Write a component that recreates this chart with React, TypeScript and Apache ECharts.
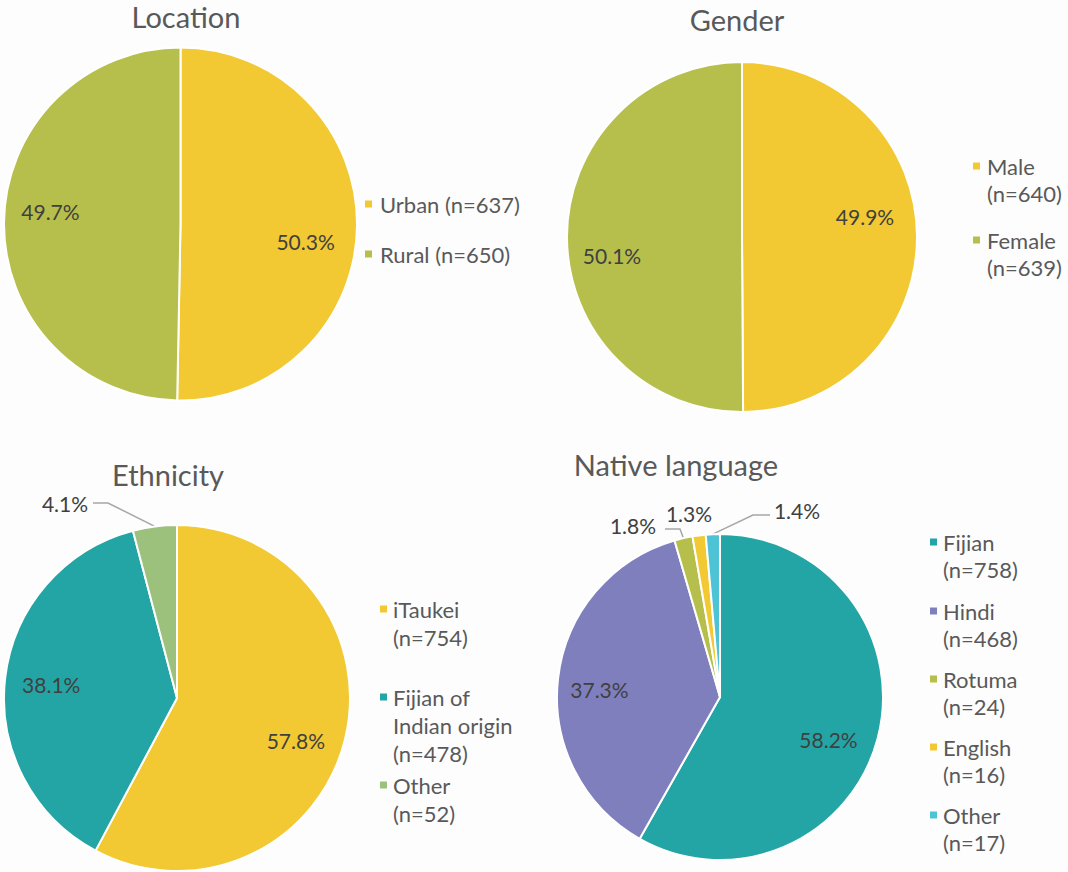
import React, { useEffect, useRef } from 'react';
import * as echarts from 'echarts';

// ---------- data ----------
const locationCategories = ['Urban', 'Rural'];
const locationCounts = [637, 650];
const locationPercents = [50.3, 49.7];

const genderCategories = ['Male', 'Female'];
const genderCounts = [640, 639];
const genderPercents = [49.9, 50.1];

const ethnicityCategories = ['iTaukei', 'Fijian of Indian origin', 'Other'];
const ethnicityCounts = [754, 478, 52];
const ethnicityPercents = [57.8, 38.1, 4.1];

const languageCategories = ['Fijian', 'Hindi', 'Rotuma', 'English', 'Other'];
const languageCounts = [758, 468, 24, 16, 17];
const languagePercents = [58.2, 37.3, 1.8, 1.3, 1.4];

// ---------- styles ----------
const YELLOW = '#F2C932';
const OLIVE = '#B6BF4B';
const TEAL = '#24A5A5';
const PURPLE = '#7F7FBE';
const LIGHTGREEN = '#9CC17C';
const LIGHTBLUE = '#4FC3D6';
const FONT = 'Lato, "Open Sans", sans-serif';

type LabelCfg = {
  nudge?: number[];
  outside?: boolean;
  pos?: number[];
  bend?: number[];
  end?: number[];
  noLine?: boolean;
};

type Panel = {
  title: string;
  titleX: number;
  titleY: number;
  cats: string[];
  counts: number[];
  pcts: number[];
  colors: string[];
  center: number[];
  r: number;
  legend: { sqX: number; textX: number; ys: number[]; lh: number; inline: boolean };
  labels: LabelCfg[];
};

const panels: Panel[] = [
  {
    title: 'Location', titleX: 186, titleY: 2,
    cats: locationCategories, counts: locationCounts, pcts: locationPercents,
    colors: [YELLOW, OLIVE], center: [180.5, 224], r: 176.5,
    legend: { sqX: 365, textX: 380, ys: [204, 254], lh: 27, inline: true },
    labels: [{ nudge: [-2, 16] }, { nudge: [-3, -11] }],
  },
  {
    title: 'Gender', titleX: 737, titleY: 5,
    cats: genderCategories, counts: genderCounts, pcts: genderPercents,
    colors: [YELLOW, OLIVE], center: [742, 237], r: 175,
    legend: { sqX: 973, textX: 987, ys: [166, 240], lh: 27, inline: false },
    labels: [{ nudge: [-3, -20] }, { nudge: [-4, 18] }],
  },
  {
    title: 'Ethnicity', titleX: 168, titleY: 460,
    cats: ethnicityCategories, counts: ethnicityCounts, pcts: ethnicityPercents,
    colors: [YELLOW, TEAL, LIGHTGREEN], center: [177, 698], r: 173,
    legend: { sqX: 380, textX: 393, ys: [609, 697, 785], lh: 28, inline: false },
    labels: [
      { nudge: [-2, 12] },
      { nudge: [-2, 1] },
      { outside: true, pos: [65, 503], bend: [108, 503], end: [93, 503] },
    ],
  },
  {
    title: 'Native language', titleX: 676, titleY: 450,
    cats: languageCategories, counts: languageCounts, pcts: languagePercents,
    colors: [TEAL, PURPLE, OLIVE, YELLOW, LIGHTBLUE], center: [720, 697], r: 163,
    legend: { sqX: 930, textX: 943, ys: [542, 611, 679, 747, 815], lh: 27, inline: false },
    labels: [
      { nudge: [-5, 13] },
      { nudge: [-4, 6] },
      { outside: true, pos: [633, 525], bend: [680, 529], end: [665, 529] },
      { outside: true, pos: [689, 513], noLine: true },
      { outside: true, pos: [797, 510], bend: [753, 515], end: [770, 515] },
    ],
  },
];

function midAngle(p: Panel, i: number): number {
  const total = p.pcts.reduce((a, b) => a + b, 0);
  let before = 0;
  for (let k = 0; k < i; k++) before += p.pcts[k];
  return ((before + p.pcts[i] / 2) / total) * Math.PI * 2;
}

function legendText(p: Panel, i: number): string {
  const name = p.cats[i];
  if (p.legend.inline) return `${name} (n=${p.counts[i]})`;
  return `${name.replace('Fijian of ', 'Fijian of\n')}\n(n=${p.counts[i]})`;
}

export default function App() {
  const ref = useRef<HTMLDivElement>(null);

  useEffect(() => {
    if (!ref.current) return;
    const chart = echarts.init(ref.current, undefined, { renderer: 'svg' });

    const graphic: any[] = [];
    panels.forEach((p) => {
      p.cats.forEach((_, i) => {
        graphic.push({
          type: 'rect',
          shape: { x: p.legend.sqX, y: p.legend.ys[i] - 3.5, width: 7, height: 7 },
          style: { fill: p.colors[i] },
        });
        graphic.push({
          type: 'text',
          x: p.legend.textX,
          y: p.legend.ys[i] - p.legend.lh / 2,
          style: {
            text: legendText(p, i),
            fontFamily: FONT,
            fontSize: 22,
            fill: '#595959',
            lineHeight: p.legend.lh,
            verticalAlign: 'top',
            align: 'left',
          },
        });
      });
    });

    const option: any = {
      animation: false,
      backgroundColor: '#fdfdfd',
      title: panels.map((p) => ({
        text: p.title,
        left: p.titleX,
        top: p.titleY,
        textAlign: 'center',
        padding: 0,
        textStyle: { fontFamily: FONT, fontSize: 29, fontWeight: 'normal', color: '#595959' },
      })),
      graphic,
      series: panels.map((p) => ({
        type: 'pie',
        center: p.center,
        radius: p.r,
        startAngle: 90,
        clockwise: true,
        avoidLabelOverlap: false,
        itemStyle: { borderColor: '#ffffff', borderWidth: 2 },
        label: {
          show: true,
          formatter: (prm: any) => `${Number(prm.value).toFixed(1)}%`,
          fontFamily: FONT,
          fontSize: 21,
          color: '#404040',
        },
        labelLine: { show: true, length: 10, length2: 10, lineStyle: { color: '#A6A6A6', width: 1.5 } },
        emphasis: { disabled: true },
        data: p.pcts.map((v, i) => ({
          name: p.cats[i],
          value: v,
          itemStyle: { color: p.colors[i] },
          label: { position: p.labels[i].outside ? 'outside' : 'inside' },
          labelLine: { show: !!(p.labels[i].outside && !p.labels[i].noLine) },
        })),
        labelLayout: (params: any) => {
          const cfg = p.labels[params.dataIndex];
          const a = midAngle(p, params.dataIndex);
          if (cfg.outside) {
            const res: any = { x: cfg.pos![0], y: cfg.pos![1], align: 'center', verticalAlign: 'middle' };
            if (!cfg.noLine) {
              const edge = [p.center[0] + Math.sin(a) * p.r, p.center[1] - Math.cos(a) * p.r];
              res.labelLinePoints = [edge, cfg.bend, cfg.end];
            }
            return res;
          }
          const d = p.r * 0.72;
          const n = cfg.nudge || [0, 0];
          return {
            x: p.center[0] + Math.sin(a) * d + n[0],
            y: p.center[1] - Math.cos(a) * d + n[1],
            align: 'center',
            verticalAlign: 'middle',
          };
        },
      })),
    };

    chart.setOption(option);
    return () => chart.dispose();
  }, []);

  return (
    <div
      ref={ref}
      style={{ position: 'fixed', left: 0, top: 0, width: 1068, height: 872 }}
    />
  );
}
